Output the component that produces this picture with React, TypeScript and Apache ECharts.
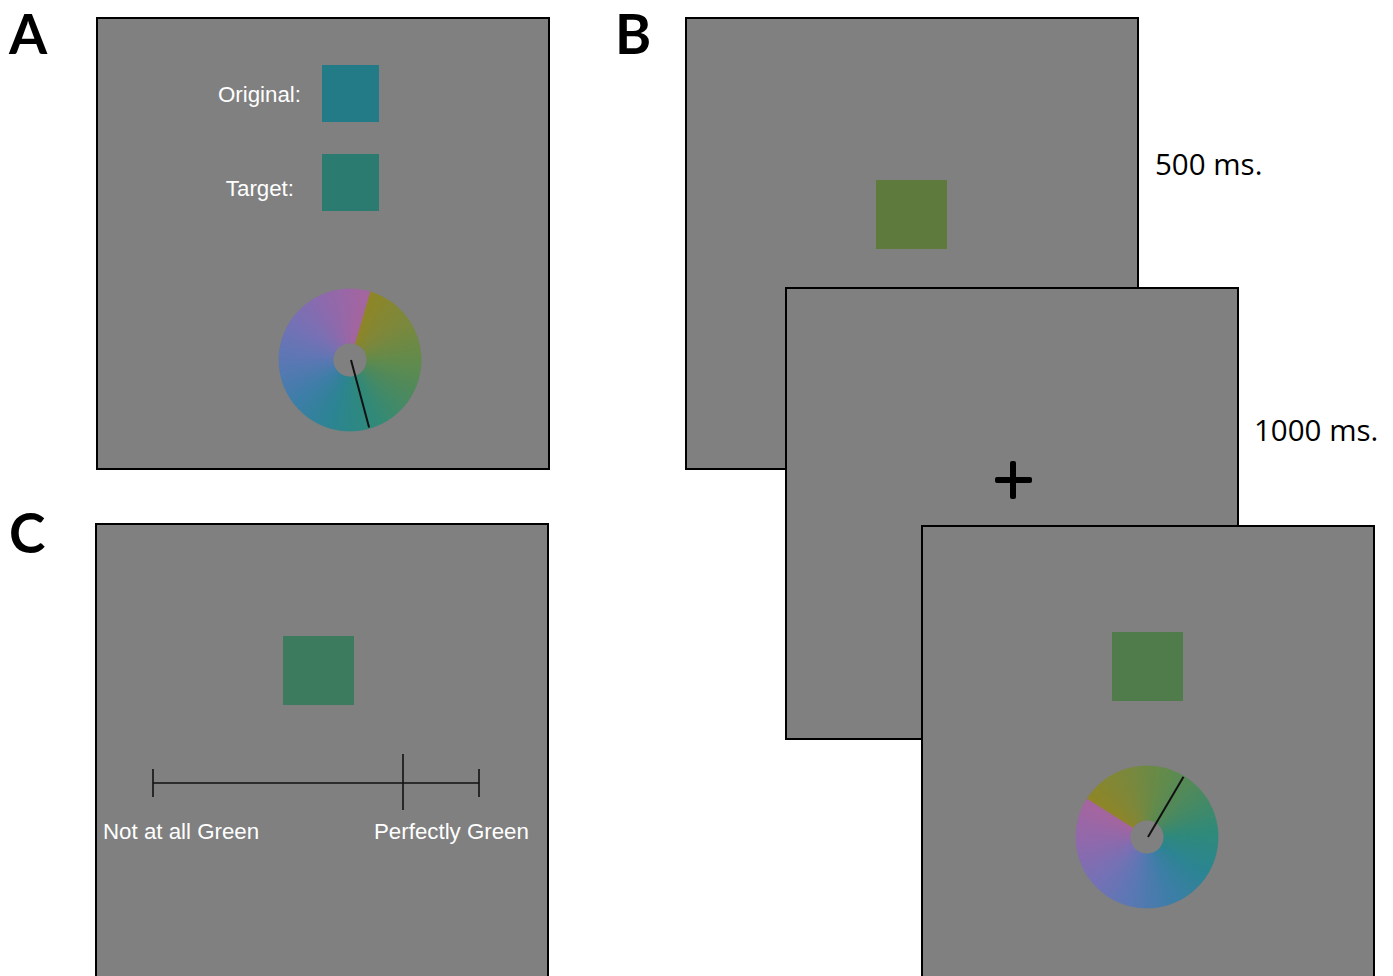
import React, { useEffect, useRef } from "react";
import * as echarts from "echarts";

// ---- data ----
const panelLetters = ["A", "B", "C"];
const panelLetterPos = [[9, 33], [615, 33], [9, 532]];
// frames: [x, y, w, h]
const frames = [[97, 18, 452, 451], [686, 18, 452, 451], [786, 288, 452, 451], [922, 526, 452, 460], [96, 524, 452, 460]];
const frameZ = [1, 1, 2, 3, 1];
// coloured squares: [x, y, w, h, color, z]
const squares: [number, number, number, number, string, number][] = [
  [322, 65, 57, 57, "#227b86", 1],
  [322, 154, 57, 57, "#2b7b70", 1],
  [876, 180, 71, 69, "#5e7b3d", 1],
  [1112, 632, 71, 69, "#507b4b", 3],
  [283, 636, 71, 69, "#3c7b5e", 1],
];
const squareLabels = ["Original:", "Target:"];
const squareLabelRight = [301, 294];
const squareLabelY = [94, 188];
const timingLabels = ["500 ms.", "1000 ms."];
const timingPos = [[1155, 163], [1254, 429]];
// colour wheel stops, clockwise from the seam
const wheelStops = ["#8f8626", "#7e883a", "#648b4a", "#4a8a60", "#2f8a7a", "#2b8592", "#3c7ea8", "#5a78b4", "#7671b6", "#9069ac", "#a6659f"];
const wheelCenters = [[350, 360], [1147, 837]];
const wheelSeamDeg = [16, 302];
const wheelNeedleDeg = [165, 30.5];
const wheelZ = [1, 3];
const wheelOuter = 71;
const wheelInner = 17;
// rating scale
const scaleEnds = [153, 479];
const scaleY = 783;
const scaleMarker = 403;
const scaleLabels = ["Not at all Green", "Perfectly Green"];
const scaleLabelX = [103, 374];
const scaleLabelY = 831;

function hexToRgb(h: string) {
  const n = parseInt(h.slice(1), 16);
  return [(n >> 16) & 255, (n >> 8) & 255, n & 255];
}
function mix(a: string, b: string, t: number) {
  const A = hexToRgb(a), B = hexToRgb(b);
  const c = A.map((v, i) => Math.round(v + (B[i] - v) * t));
  return `rgb(${c[0]},${c[1]},${c[2]})`;
}
function wheelColor(f: number) {
  const p = f * (wheelStops.length - 1);
  const i = Math.min(Math.floor(p), wheelStops.length - 2);
  return mix(wheelStops[i], wheelStops[i + 1], p - i);
}
const rad = (degFromUp: number) => ((degFromUp - 90) * Math.PI) / 180;

function buildGraphic() {
  const els: any[] = [];
  frames.forEach(([x, y, w, h], i) => {
    els.push({
      type: "rect", z: frameZ[i],
      shape: { x, y, width: w, height: h },
      style: { fill: "#808080", stroke: "#000", lineWidth: 2 },
    });
  });
  squares.forEach(([x, y, w, h, c, z]) => {
    els.push({ type: "rect", z: z + 0.5, shape: { x, y, width: w, height: h }, style: { fill: c } });
  });
  panelLetters.forEach((t, i) => {
    els.push({
      type: "text", z: 5, x: panelLetterPos[i][0], y: panelLetterPos[i][1],
      style: { text: t, fill: "#000", font: "bold 55px Lato, 'Open Sans', sans-serif", textVerticalAlign: "middle" },
    });
  });
  squareLabels.forEach((t, i) => {
    els.push({
      type: "text", z: 2, x: squareLabelRight[i], y: squareLabelY[i],
      style: { text: t, fill: "#fff", font: "22.3px 'Liberation Sans', Arial, sans-serif", textAlign: "right", textVerticalAlign: "middle" },
    });
  });
  timingLabels.forEach((t, i) => {
    els.push({
      type: "text", z: 5, x: timingPos[i][0], y: timingPos[i][1],
      style: { text: t, fill: "#000", font: "29.5px 'Open Sans', Lato, sans-serif", textVerticalAlign: "middle" },
    });
  });
  // wheels
  const N = 180;
  wheelCenters.forEach(([cx, cy], w) => {
    for (let k = 0; k < N; k++) {
      const a0 = wheelSeamDeg[w] + (360 * k) / N;
      const a1 = wheelSeamDeg[w] + (360 * (k + 1)) / N;
      const col = wheelColor((k + 0.5) / N);
      els.push({
        type: "sector", z: wheelZ[w] + 0.5,
        shape: { cx, cy, r: wheelOuter, r0: wheelInner, startAngle: rad(a0), endAngle: rad(a1 + 0.3), clockwise: true },
        style: { fill: col, stroke: col, lineWidth: 0.6 },
      });
    }
    const na = rad(wheelNeedleDeg[w]);
    els.push({
      type: "line", z: wheelZ[w] + 0.7,
      shape: { x1: cx + 1, y1: cy, x2: cx + 1 + Math.cos(na) * (wheelOuter - 1), y2: cy + Math.sin(na) * (wheelOuter - 1) },
      style: { stroke: "#111", lineWidth: 2 },
    });
  });
  // fixation cross
  els.push({ type: "rect", z: 2.5, shape: { x: 995, y: 477, width: 37, height: 6, r: 2 }, style: { fill: "#000" } });
  els.push({ type: "rect", z: 2.5, shape: { x: 1010, y: 461, width: 6, height: 38, r: 2 }, style: { fill: "#000" } });
  // rating scale
  els.push({ type: "line", z: 2, shape: { x1: scaleEnds[0], y1: scaleY, x2: scaleEnds[1], y2: scaleY }, style: { stroke: "#111", lineWidth: 1.6 } });
  scaleEnds.forEach((x) => {
    els.push({ type: "line", z: 2, shape: { x1: x, y1: scaleY - 14, x2: x, y2: scaleY + 14 }, style: { stroke: "#111", lineWidth: 1.6 } });
  });
  els.push({ type: "line", z: 2, shape: { x1: scaleMarker, y1: scaleY - 29, x2: scaleMarker, y2: scaleY + 27 }, style: { stroke: "#111", lineWidth: 1.6 } });
  scaleLabels.forEach((t, i) => {
    els.push({
      type: "text", z: 2, x: scaleLabelX[i], y: scaleLabelY,
      style: { text: t, fill: "#fff", font: "22.3px 'Liberation Sans', Arial, sans-serif", textVerticalAlign: "middle" },
    });
  });
  return els;
}

export default function App() {
  const ref = useRef<HTMLDivElement>(null);
  useEffect(() => {
    if (!ref.current) return;
    const chart = echarts.init(ref.current, undefined, { renderer: "svg" });
    chart.setOption({ animation: false, backgroundColor: "#fff", graphic: { elements: buildGraphic() } });
    return () => chart.dispose();
  }, []);
  return <div ref={ref} style={{ position: "fixed", left: 0, top: 0, width: 1393, height: 976, background: "#fff" }} />;
}
